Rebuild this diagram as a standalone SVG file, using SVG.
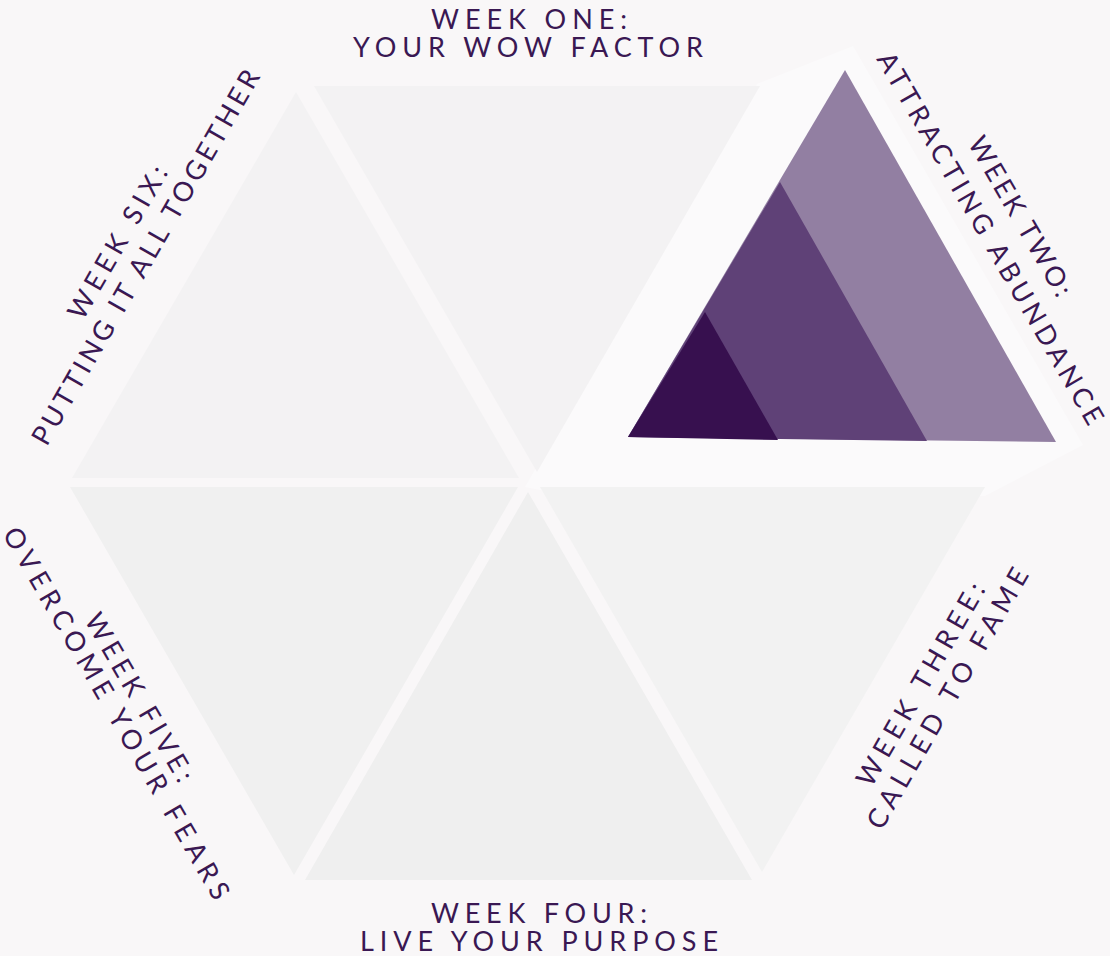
<svg xmlns="http://www.w3.org/2000/svg" width="1110" height="956" viewBox="0 0 1110 956">
  <style>
    .lbl { font-family: "Lato", "Open Sans", "Liberation Sans", sans-serif; font-size: 27px; fill: #3a1853; text-anchor: middle; }
    .tri-top { fill: #f3f2f3; }
    .tri-bot { fill: #f0f0f0; }
  </style>
  <rect x="0" y="0" width="1110" height="956" fill="#f9f7f8"/>

  <g id="week-two">
    <polygon points="525,487 757,84 853,46 1083,445 985,496 540,490" fill="#fbfafb"/>
    <polygon points="845,70 1056,442 628,437" fill="#927fa2"/>
    <polygon points="780,182 927,441 628,437" fill="#5f4177"/>
    <polygon points="705,312 778,440 628,437" fill="#37104f"/>
    <text class="lbl" transform="translate(1021,216) rotate(60)" y="10" textLength="180" lengthAdjust="spacing">WEEK TWO:</text>
    <text class="lbl" transform="translate(991,238) rotate(60)" y="10" textLength="425" lengthAdjust="spacing">ATTRACTING ABUNDANCE</text>
  </g>

  <g id="week-one">
    <polygon class="tri-top" points="314,86 760,86 537,472"/>
    <text class="lbl" x="529" y="29" font-size="28" textLength="196" lengthAdjust="spacing">WEEK ONE:</text>
    <text class="lbl" x="528" y="57" font-size="28" textLength="350" lengthAdjust="spacing">YOUR WOW FACTOR</text>
  </g>

  <g id="week-six">
    <polygon class="tri-top" points="296,92 519,478 72,478"/>
    <text class="lbl" transform="translate(117,242) rotate(-60)" y="10" textLength="172" lengthAdjust="spacing">WEEK SIX:</text>
    <text class="lbl" transform="translate(145,257) rotate(-60)" y="10" textLength="428" lengthAdjust="spacing">PUTTING IT ALL TOGETHER</text>
  </g>

  <g id="week-three">
    <polygon points="540,487 985,487 762,872" fill="#f2f2f2"/>
    <text class="lbl" transform="translate(920,684) rotate(-60)" y="10" textLength="230" lengthAdjust="spacing">WEEK THREE:</text>
    <text class="lbl" transform="translate(947,698) rotate(-60)" y="10" textLength="296" lengthAdjust="spacing">CALLED TO FAME</text>
  </g>

  <g id="week-four">
    <polygon points="528,492 752,880 305,880" fill="#efefef"/>
    <text class="lbl" x="539" y="923" font-size="28" textLength="216" lengthAdjust="spacing">WEEK FOUR:</text>
    <text class="lbl" x="539" y="951" font-size="28" textLength="358" lengthAdjust="spacing">LIVE YOUR PURPOSE</text>
  </g>

  <g id="week-five">
    <polygon class="tri-bot" points="70,487 518,487 294,875"/>
    <text class="lbl" transform="translate(140,697) rotate(60)" y="10" textLength="190" lengthAdjust="spacing">WEEK FIVE:</text>
    <text class="lbl" transform="translate(117,713) rotate(60)" y="10" textLength="425" lengthAdjust="spacing">OVERCOME YOUR FEARS</text>
  </g>
</svg>
